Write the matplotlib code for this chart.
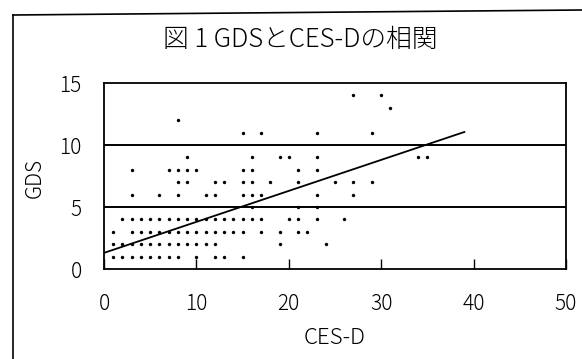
import matplotlib
matplotlib.use("Agg")
import matplotlib.pyplot as plt
from matplotlib.lines import Line2D
import numpy as np

plt.rcParams['font.family'] = ['Noto Sans CJK JP', 'DejaVu Sans']
plt.rcParams['font.weight'] = 'light'
plt.rcParams['axes.labelweight'] = 'light'

# ---- data (CES-D scores observed at each GDS level) ----
gds_levels = [1, 2, 3, 4, 5, 6, 7, 8, 9, 11, 12, 13, 14]
ces_gds1 = [1, 2, 3, 4, 5, 6, 7, 8, 10, 12, 13, 15]
ces_gds2 = [1, 2, 3, 4, 5, 6, 7, 8, 9, 10, 11, 12, 19, 24]
ces_gds3 = [1, 3, 4, 5, 6, 7, 8, 9, 10, 11, 12, 13, 14, 15, 17, 19, 21, 22]
ces_gds4 = [2, 3, 4, 5, 6, 7, 8, 9, 10, 11, 12, 13, 14, 15, 16, 17, 20, 21, 23, 26]
ces_gds5 = [16, 21, 23]
ces_gds6 = [3, 6, 8, 11, 12, 15, 16, 17, 23, 27]
ces_gds7 = [8, 9, 12, 13, 15, 16, 18, 21, 25, 27, 29]
ces_gds8 = [3, 7, 8, 9, 10, 15, 16, 21, 23]
ces_gds9 = [9, 16, 19, 20, 23, 34, 35]
ces_gds11 = [15, 17, 23, 29]
ces_gds12 = [8]
ces_gds13 = [31]
ces_gds14 = [27, 30]
ces_rows = [ces_gds1, ces_gds2, ces_gds3, ces_gds4, ces_gds5, ces_gds6, ces_gds7,
            ces_gds8, ces_gds9, ces_gds11, ces_gds12, ces_gds13, ces_gds14]

cutoffs = [5, 10]
reg_intercept = 1.3
reg_slope = 0.25
reg_x = [0, 39]

x_ticks = [0, 10, 20, 30, 40, 50]
y_ticks = [0, 5, 10, 15]
title = "図 1 GDSとCES-Dの相関"
x_label = "CES-D"
y_label = "GDS"

# ---- figure ----
W, H = 582, 359
fig = plt.figure(figsize=(W / 100, H / 100), dpi=100)
fig.patch.set_facecolor('white')

# outer chart frame (partly outside the visible image)
fig.add_artist(Line2D([13/W, 13/W], [0, 1 - 15/H], transform=fig.transFigure,
                      color='black', lw=1.2))
fig.add_artist(Line2D([13/W, 1.0], [1 - 15/H, 1 - 10/H], transform=fig.transFigure,
                      color='black', lw=1.2))

ax = fig.add_axes([104/W, 1 - 269/H, (566 - 104)/W, (269 - 83)/H])

xs, ys = [], []
for lvl, row in zip(gds_levels, ces_rows):
    xs.extend(row)
    ys.extend([lvl] * len(row))
ax.scatter(xs, ys, s=6, color='black', marker='o', linewidths=0, zorder=3)

for c in cutoffs:
    ax.axhline(c, color='black', lw=1.4, zorder=2)

rx = np.array(reg_x, dtype=float)
ax.plot(rx, reg_intercept + reg_slope * rx, color='black', lw=1.3, zorder=2)

ax.set_xlim(0, 50)
ax.set_ylim(0, 15)
ax.set_xticks(x_ticks)
ax.set_yticks(y_ticks)
ax.tick_params(axis='x', direction='in', length=7, width=1.0, pad=17.5, labelsize=15)
ax.tick_params(axis='y', length=0, pad=16, labelsize=15)

for side in ['left', 'bottom', 'right', 'top']:
    ax.spines[side].set_linewidth(1.3)
ax.spines['top'].set_linestyle((0, (4, 1)))
ax.spines['right'].set_linestyle((0, (5, 1)))

ax.set_xlabel(x_label, fontsize=16, fontweight='light')
ax.set_ylabel(y_label, fontsize=15, fontweight='light')
# label centres in axes coordinates
ax_w, ax_h = 566 - 104, 269 - 83
ax.xaxis.set_label_coords((335 - 104) / ax_w, (269 - 337.5) / ax_h)
ax.xaxis.label.set_va('center')
ax.yaxis.set_label_coords((35 - 104) / ax_w, (269 - 178) / ax_h)
ax.yaxis.label.set_va('center')

fig.text(300/W, 1 - 40/H, title, ha='center', va='center', fontsize=18.5)

fig.savefig('out.png', dpi=100, facecolor='white')
